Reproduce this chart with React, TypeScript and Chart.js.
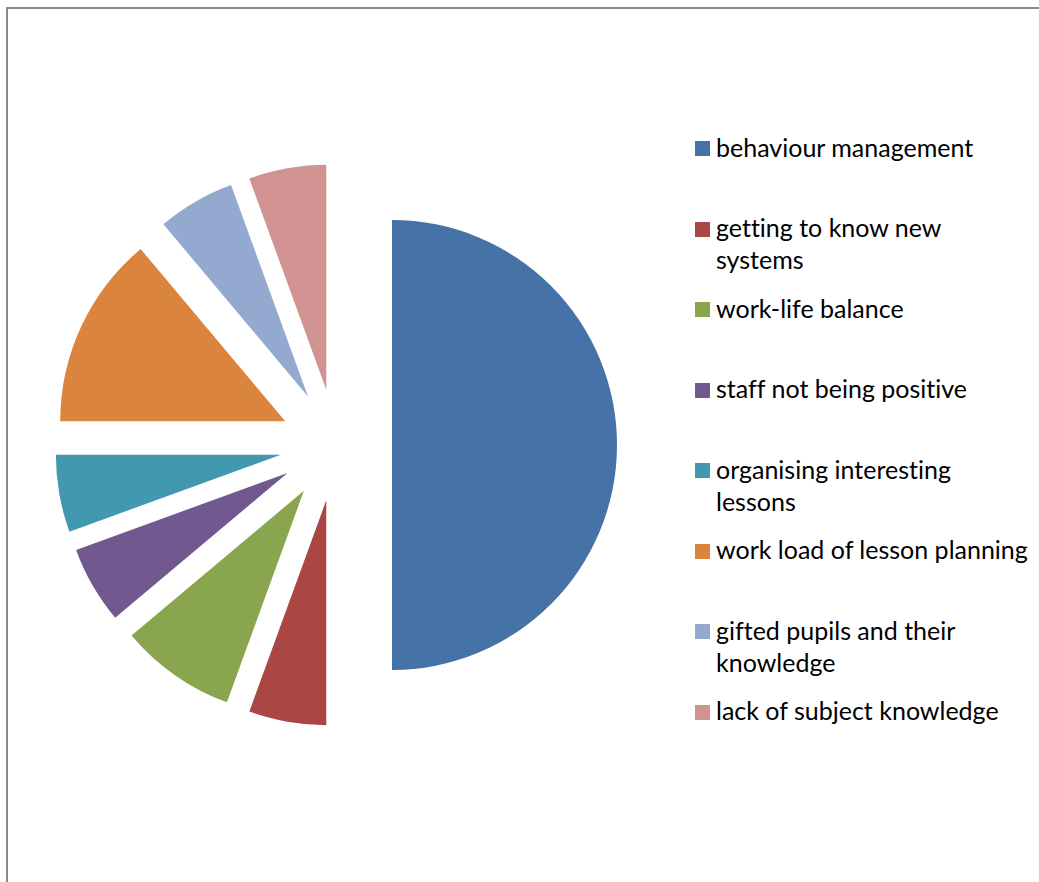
import React, { useEffect, useRef } from "react";
import { Chart, registerables } from "chart.js";

Chart.register(...registerables);

const categories = [
  "behaviour management",
  "getting to know new systems",
  "work-life balance",
  "staff not being positive",
  "organising interesting lessons",
  "work load of lesson planning",
  "gifted pupils and their knowledge",
  "lack of subject knowledge",
];
const legendLabels = [
  "behaviour management",
  "getting to know new\nsystems",
  "work-life balance",
  "staff not being positive",
  "organising interesting\nlessons",
  "work load of lesson planning",
  "gifted pupils and their\nknowledge",
  "lack of subject knowledge",
];
const values = [18, 2, 3, 2, 2, 5, 2, 2];
const colors = ["#4572A7", "#AA4643", "#89A54E", "#71588F", "#4198AF", "#DB843D", "#93A9CF", "#D19392"];

const EXPLODE = 56;
const RADIUS = 225;

const explodePlugin = {
  id: "explode",
  afterDatasetUpdate(chart: any, args: any) {
    const meta = chart.getDatasetMeta(args.index);
    meta.data.forEach((arc: any) => {
      const mid = (arc.startAngle + arc.endAngle) / 2;
      arc.x += Math.cos(mid) * EXPLODE;
      arc.y += Math.sin(mid) * EXPLODE;
    });
  },
};

export default function App() {
  const ref = useRef<HTMLCanvasElement | null>(null);
  useEffect(() => {
    if (!ref.current) return;
    const chart = new Chart(ref.current, {
      type: "pie",
      data: {
        labels: categories,
        datasets: [
          {
            data: values,
            backgroundColor: colors,
            borderWidth: 0,
          },
        ],
      },
      options: {
        responsive: false,
        animation: false,
        events: [],
        radius: RADIUS,
        layout: { padding: 0 },
        plugins: {
          legend: { display: false },
          tooltip: { enabled: false },
        },
      } as any,
      plugins: [explodePlugin],
    });
    return () => chart.destroy();
  }, []);

  return (
    <div
      style={{
        position: "fixed",
        left: 0,
        top: 0,
        width: 1039,
        height: 882,
        overflow: "hidden",
        background: "#fff",
      }}
    >
      <div
        style={{
          position: "absolute",
          left: 6,
          top: 7,
          width: 1200,
          height: 1000,
          border: "2px solid #8a8a8a",
        }}
      />
      <canvas
        ref={ref}
        width={672}
        height={880}
        style={{ position: "absolute", left: 0, top: 5, width: 672, height: 880 }}
      />
      {legendLabels.map((c, i) => {
        const top = 141 + 80.57 * i;
        return (
          <React.Fragment key={c}>
            <div
              style={{
                position: "absolute",
                left: 695,
                top,
                width: 15,
                height: 15,
                background: colors[i],
              }}
            />
            <div
              style={{
                position: "absolute",
                left: 716,
                top: top - 10.5,
                whiteSpace: "pre",
                fontFamily: "Lato, sans-serif",
                fontSize: 25,
                lineHeight: "32px",
                fontVariantLigatures: "none",
                color: "#000",
              }}
            >
              {c}
            </div>
          </React.Fragment>
        );
      })}
    </div>
  );
}
